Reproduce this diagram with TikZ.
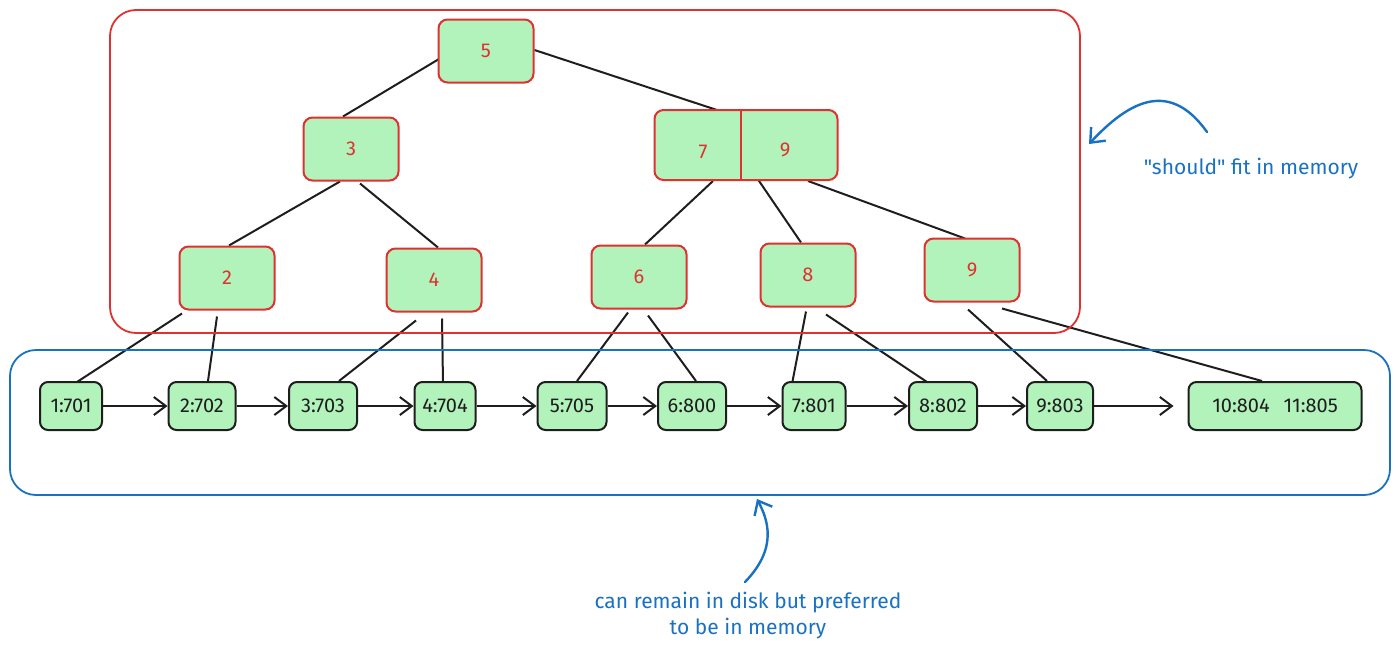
\documentclass[tikz,border=0pt]{standalone}
\usepackage{fontspec}
\setmainfont{Fira Sans}
\newfontfamily\notefont{Fira Sans}[Ligatures=TeXOff]
\usetikzlibrary{arrows.meta,calc}
\definecolor{inkred}{HTML}{E03131}
\definecolor{inkblue}{HTML}{1971C2}
\definecolor{ink}{HTML}{1E1E1E}
\definecolor{leafgreen}{HTML}{B2F2BB}
\pgfdeclarelayer{bg}
\pgfsetlayers{bg,main}
\tikzset{
  treenode/.style={draw=inkred, fill=leafgreen, rounded corners=9pt, line width=2pt,
    text=inkred, font=\fontsize{20}{24}\selectfont, minimum width=95pt, minimum height=63pt, inner sep=0pt},
  treekey/.style={text=inkred, font=\fontsize{20}{24}\selectfont},
  leafnode/.style={draw=ink, fill=leafgreen, rounded corners=8pt, line width=2pt,
    text=ink, font=\fontsize{20}{24}\selectfont, minimum height=48pt, inner sep=0pt},
  link/.style={draw=ink, line width=2pt},
  chain/.style={draw=ink, line width=2pt, -{Straight Barb[length=12pt,width=18pt,line width=2pt]}},
  region/.style={line width=1.8pt, rounded corners=26pt},
  note/.style={text=inkblue, font=\notefont\fontsize{21}{26}\selectfont, align=center},
  pointer/.style={draw=inkblue, line width=2.4pt, line cap=round,
    -{Straight Barb[length=12pt,width=20pt,line width=2.4pt]}}
}
\begin{document}
\begin{tikzpicture}[x=1pt,y=-1pt]
\useasboundingbox (0,0) rectangle (1398,651);

% memory and disk regions
\draw[region, draw=inkred] (110,10) rectangle (1080,333);
\draw[region, draw=inkblue] (10,350) rectangle (1390,495);

% inner tree nodes
\node[treenode] (n5) at (486,51) {5};
\node[treenode] (n3) at (351,149) {3};
\node[treenode, minimum width=183pt, minimum height=70pt] (n79) at (746,145) {};
\node[treekey] (k7) at (703,152) {7};
\node[treekey] (k9) at (785,150) {9};
\draw[inkred, line width=2pt] ($(n79.north)+(-5,0)$) -- ($(n79.south)+(-5,0)$);
\node[treenode] (n2) at (227,278) {2};
\node[treenode] (n4) at (434,280) {4};
\node[treenode] (n6) at (639,277) {6};
\node[treenode] (n8) at (808,275) {8};
\node[treenode] (n9b) at (972,270) {9};

% leaf nodes
\node[leafnode, minimum width=62pt] (l1) at (71,406) {1:701};
\node[leafnode, minimum width=67pt] (l2) at (202,406) {2:702};
\node[leafnode, minimum width=68pt] (l3) at (323,406) {3:703};
\node[leafnode, minimum width=61pt] (l4) at (445,406) {4:704};
\node[leafnode, minimum width=69pt] (l5) at (572,406) {5:705};
\node[leafnode, minimum width=68pt] (l6) at (692,406) {6:800};
\node[leafnode, minimum width=63pt] (l7) at (814,406) {7:801};
\node[leafnode, minimum width=68pt] (l8) at (943,406) {8:802};
\node[leafnode, minimum width=66pt] (l9) at (1060,406) {9:803};
\node[leafnode, minimum width=173pt] (l10) at (1275,406) {10:804\hspace{14pt}11:805};

\begin{pgfonlayer}{bg}
% tree edges
\draw[link] ($(n5.center)+(-42,5)$) -- ($(n3.north)+(-8,0)$);
\draw[link] ($(n5.east)+(0,-1)$) -- ($(n79.north)+(-26,2)$);
\draw[link] ($(n3.south)+(-11,0)$) -- ($(n2.north)+(2,0)$);
\draw[link] ($(n3.south)+(9,2)$) -- ($(n4.north)+(4,0)$);
\draw[link] ($(n79.south)+(-33,0)$) -- ($(n6.north)+(6,0)$);
\draw[link] ($(n79.south)+(11,-3)$) -- ($(n8.north)+(-7,0)$);
\draw[link] ($(n79.south)+(62,0)$) -- ($(n9b.north)+(-7,1)$);
% edges down to the leaves
\draw[link] ($(n2.south)+(-45,3)$) -- ($(l1.north)+(6,1)$);
\draw[link] ($(n2.south)+(-10,6)$) -- ($(l2.north)+(6,0)$);
\draw[link] ($(n4.south)+(-18,8)$) -- ($(l3.north)+(16,0)$);
\draw[link] ($(n4.south)+(8,6)$) -- ($(l4.north)+(-2,2)$);
\draw[link] ($(n6.south)+(-11,3)$) -- ($(l5.north)+(5,0)$);
\draw[link] ($(n6.south)+(9,6)$) -- ($(l6.north)+(4,0)$);
\draw[link] ($(n8.south)+(-2,4)$) -- ($(l7.north)+(-22,3)$);
\draw[link] ($(n8.south)+(18,7)$) -- ($(l8.north)+(-13,3)$);
\draw[link] ($(n9b.south)+(-4,7)$) -- ($(l9.north)+(-13,0)$);
\draw[link] ($(n9b.south)+(30,6)$) -- ($(l10.north)+(-13,0)$);
\end{pgfonlayer}

% leaf chain
\draw[chain] (l1) -- (l2);
\draw[chain] (l2) -- (l3);
\draw[chain] (l3) -- (l4);
\draw[chain] (l4) -- (l5);
\draw[chain] (l5) -- (l6);
\draw[chain] (l6) -- (l7);
\draw[chain] (l7) -- (l8);
\draw[chain] (l8) -- (l9);
\draw[chain, shorten >=14pt] (l9) -- (l10);

% annotations
\node[note] (memnote) at (1251,169) {"should" fit in memory};
\coordinate (memtail) at (1207,132);
\coordinate (memhead) at (1089,144);
\draw[pointer] (memtail) .. controls (1170,80) and (1130,100) .. (memhead);

\node[note] (disknote) at (748,616) {can remain in disk but preferred\\to be in memory};
\coordinate (disktail) at (745,582);
\coordinate (diskhead) at (757,499);
\draw[pointer] (disktail) .. controls (778,548) and (768,520) .. (diskhead);
\end{tikzpicture}
\end{document}
